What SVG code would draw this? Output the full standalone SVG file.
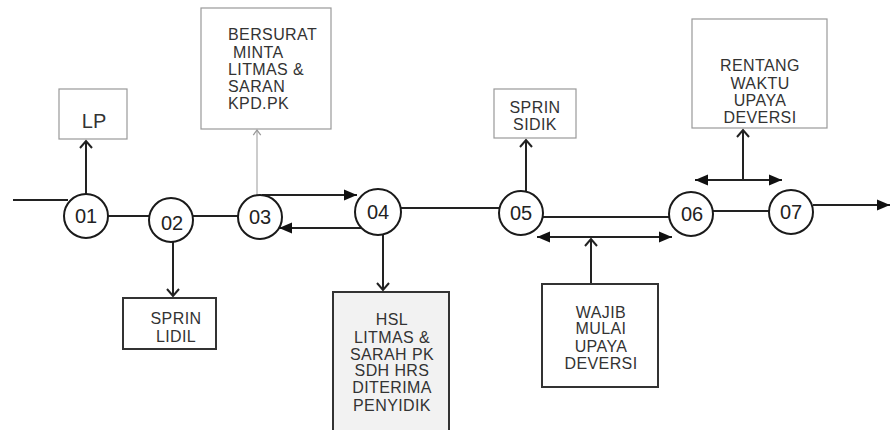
<svg xmlns="http://www.w3.org/2000/svg" width="891" height="430" viewBox="0 0 891 430">
<style>
.ln{stroke:#222;stroke-width:2;fill:none}
.thin{stroke:#999;stroke-width:1;fill:none}
.c{fill:#fff;stroke:#1a1a1a;stroke-width:2}
.bl{fill:#fff;stroke:#999;stroke-width:1.2}
.bd{fill:#fff;stroke:#333;stroke-width:2}
.t{font-family:"Liberation Sans",Arial,sans-serif;font-size:16px;letter-spacing:0.4px;fill:#333}
.n{font-family:"Liberation Sans",Arial,sans-serif;font-size:20px;fill:#222;text-anchor:middle}
.m{text-anchor:middle}
</style>
<defs>
<marker id="fa" markerUnits="userSpaceOnUse" markerWidth="16" markerHeight="12" viewBox="-14 -6 16 12" refX="0" refY="0" orient="auto">
<path d="M-13,-5.5 L0,0 L-13,5.5 z" fill="#111"/>
</marker>
<marker id="ch" markerUnits="userSpaceOnUse" markerWidth="14" markerHeight="14" viewBox="-8 -7 10 14" refX="0" refY="0" orient="auto">
<path d="M-7,-6 L0,0 L-7,6" fill="none" stroke="#222" stroke-width="2"/>
</marker>
<marker id="cht" markerUnits="userSpaceOnUse" markerWidth="10" markerHeight="10" viewBox="-5 -4 6 8" refX="0" refY="0" orient="auto">
<path d="M-4,-3 L0,0 L-4,3" fill="none" stroke="#999" stroke-width="1"/>
</marker>
</defs>

<g id="connectors">
<line class="ln" x1="13" y1="200" x2="68" y2="200"/>
<line class="ln" x1="108" y1="216" x2="150" y2="216"/>
<line class="ln" x1="193" y1="216" x2="238" y2="216"/>
<line class="ln" x1="262" y1="195" x2="357" y2="195" marker-end="url(#fa)"/>
<line class="ln" x1="362" y1="228" x2="279" y2="228" marker-end="url(#fa)"/>
<line class="ln" x1="400" y1="208" x2="500" y2="208"/>
<line class="ln" x1="543" y1="217" x2="670" y2="217"/>
<line class="ln" x1="600" y1="237" x2="537" y2="237" marker-end="url(#fa)"/>
<line class="ln" x1="580" y1="237" x2="672" y2="237" marker-end="url(#fa)"/>
<line class="ln" x1="591" y1="284" x2="591" y2="239" marker-end="url(#ch)"/>
<line class="ln" x1="713" y1="211" x2="770" y2="211"/>
<line class="ln" x1="813" y1="205" x2="890" y2="205" marker-end="url(#fa)"/>
<line class="ln" x1="750" y1="180" x2="695" y2="180" marker-end="url(#fa)"/>
<line class="ln" x1="735" y1="180" x2="782" y2="180" marker-end="url(#fa)"/>
<line class="ln" x1="743" y1="180" x2="743" y2="130" marker-end="url(#ch)"/>
<line class="ln" x1="526" y1="191" x2="526" y2="140" marker-end="url(#ch)"/>
<line class="ln" x1="86" y1="194" x2="86" y2="141" marker-end="url(#ch)"/>
<line class="thin" x1="257" y1="195" x2="257" y2="130" marker-end="url(#cht)"/>
<line class="ln" x1="173" y1="242" x2="173" y2="296" marker-end="url(#ch)"/>
<line class="ln" x1="383" y1="234" x2="383" y2="290" marker-end="url(#ch)"/>
</g>

<g id="n01"><circle class="c" cx="86" cy="216" r="22"/><text class="n" x="86" y="223">01</text></g>
<g id="n02"><circle class="c" cx="171" cy="220" r="22"/><text class="n" x="172" y="230">02</text></g>
<g id="n03"><circle class="c" cx="260" cy="217" r="22"/><text class="n" x="260" y="224">03</text></g>
<g id="n04"><circle class="c" cx="378" cy="212" r="23"/><text class="n" x="378" y="219">04</text></g>
<g id="n05"><circle class="c" cx="521" cy="213" r="22"/><text class="n" x="521" y="220">05</text></g>
<g id="n06"><circle class="c" cx="691" cy="214" r="22"/><text class="n" x="692" y="221">06</text></g>
<g id="n07"><circle class="c" cx="791" cy="212" r="22"/><text class="n" x="791" y="219">07</text></g>

<g id="lp"><rect class="bl" x="59" y="89" width="68" height="50"/><text class="t m" x="94" y="128" style="font-size:20px;letter-spacing:0">LP</text></g>

<g id="bersurat"><rect class="bl" x="201" y="8" width="130" height="121"/>
<text class="t" x="228" y="40">BERSURAT</text>
<text class="t" x="233" y="58">MINTA</text>
<text class="t" x="228" y="75">LITMAS &amp;</text>
<text class="t" x="228" y="92">SARAN</text>
<text class="t" x="228" y="109">KPD.PK</text>
</g>

<g id="sprin-lidil"><rect class="bd" x="123" y="298" width="93" height="51"/>
<text class="t m" x="176" y="324">SPRIN</text>
<text class="t m" x="176" y="342">LIDIL</text>
</g>

<g id="hsl"><rect class="bd" x="333" y="292" width="116" height="145" style="fill:#f2f2f2"/>
<text class="t m" x="392" y="325">HSL</text>
<text class="t m" x="392" y="343">LITMAS &amp;</text>
<text class="t m" x="392" y="360">SARAH PK</text>
<text class="t m" x="392" y="376">SDH HRS</text>
<text class="t m" x="392" y="393">DITERIMA</text>
<text class="t m" x="392" y="411">PENYIDIK</text>
</g>

<g id="sprin-sidik"><rect class="bl" x="494" y="89" width="82" height="49"/>
<text class="t m" x="535" y="113">SPRIN</text>
<text class="t m" x="535" y="130">SIDIK</text>
</g>

<g id="wajib"><rect class="bd" x="542" y="284" width="116" height="103"/>
<text class="t m" x="601" y="318">WAJIB</text>
<text class="t m" x="601" y="334">MULAI</text>
<text class="t m" x="601" y="352">UPAYA</text>
<text class="t m" x="601" y="369">DEVERSI</text>
</g>

<g id="rentang"><rect class="bl" x="692" y="19" width="135" height="109"/>
<text class="t m" x="760" y="71">RENTANG</text>
<text class="t m" x="760" y="89">WAKTU</text>
<text class="t m" x="760" y="106">UPAYA</text>
<text class="t m" x="760" y="123">DEVERSI</text>
</g>
</svg>
